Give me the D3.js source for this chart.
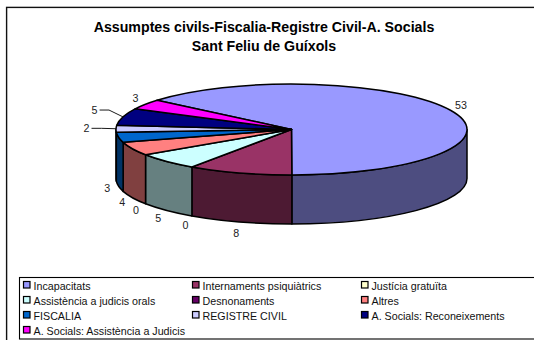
<!DOCTYPE html>
<html><head><meta charset="utf-8">
<script src="https://cdnjs.cloudflare.com/ajax/libs/d3/7.8.5/d3.min.js"></script>
<style>html,body{margin:0;padding:0;background:#fff}svg{display:block}text{font-family:"Liberation Sans",Arial,sans-serif}</style>
</head><body><div id="c"></div>
<script>
const titleLines = ["Assumptes civils-Fiscalia-Registre Civil-A. Socials", "Sant Feliu de Guíxols"];
const categories = ["Incapacitats","Internaments psiquiàtrics","Justícia gratuïta","Assistència a judicis orals","Desnonaments","Altres","FISCALIA","REGISTRE CIVIL","A. Socials: Reconeixements","A. Socials: Assistència a Judicis"];
const values = [53,8,0,5,0,4,3,2,5,3];
const colors = ["#9999FF","#993366","#FFFFCC","#CCFFFF","#660066","#FF8080","#0066CC","#CCCCFF","#000080","#FF00FF"];
const leaderCategories = ["REGISTRE CIVIL","A. Socials: Reconeixements"];

const W=534,H=340,cx=291.5,cy=129.5,rx=175.5,ry=45.5,depth=49;
const svg=d3.select("#c").append("svg").attr("width",W).attr("height",H);
svg.append("rect").attr("x",6.6).attr("y",7.4).attr("width",W+10).attr("height",H+10).attr("fill","#fff").attr("stroke","#111").attr("stroke-width",1.4);

const toRad=d3.scaleLinear().domain([0,360]).range([0,2*Math.PI]);
const pie=d3.pie().value(d=>d.v).sort(null).startAngle(toRad(310)).endAngle(toRad(670));
const arcs=pie(categories.map((c,i)=>({c,v:values[i],col:colors[i]})));
const px=(a,dy=0,k=1)=>[cx+rx*k*Math.sin(a),cy-ry*k*Math.cos(a)+dy];
const darker=c=>{const r=d3.rgb(c);return d3.rgb(r.r/2,r.g/2,r.b/2).formatHex();};
const arcPath=(a0,a1,dy)=>{const p=px(a1,dy);return `A${rx},${ry} 0 ${a1-a0>Math.PI?1:0} 1 ${p[0]},${p[1]}`;};

const sideG=svg.append("g"), topG=svg.append("g");
const lo=Math.PI/2, hi=3*Math.PI/2;
arcs.forEach(d=>{
  if(d.value===0) return;
  for(const off of [0,2*Math.PI]){
    const a0=Math.max(d.startAngle-off,lo), a1=Math.min(d.endAngle-off,hi);
    if(a1<=a0) continue;
    const s=px(a0), e=px(a1);
    const b=px(a1,depth), f=px(a0,depth);
    sideG.append("path")
      .attr("d",`M${s}${arcPath(a0,a1,0)}L${b}`+`A${rx},${ry} 0 0 0 ${f}Z`)
      .attr("fill",darker(d.data.col)).attr("stroke","#000").attr("stroke-width",1.5).attr("stroke-linejoin","round");
  }
});
arcs.forEach(d=>{
  if(d.value===0) return;
  const s=px(d.startAngle);
  topG.append("path")
    .attr("d",`M${cx},${cy}L${s}${arcPath(d.startAngle,d.endAngle,0)}Z`)
    .attr("fill",d.data.col).attr("stroke","#000").attr("stroke-width",1.5).attr("stroke-linejoin","round");
});

const lab=svg.append("g").attr("font-size",10.7).attr("fill","#222").attr("text-anchor","middle");
arcs.forEach(d=>{
  const m=(d.startAngle+d.endAngle)/2, sn=Math.sin(m), cs=Math.cos(m);
  const front=cs<-0.1;
  const isLeader=leaderCategories.includes(d.data.c);
  const Rx=isLeader?205:187, Ry=isLeader?70:57;
  const x=cx+Rx*sn, y=cy-Ry*cs+(front?depth:0);
  lab.append("text").attr("x",x).attr("y",y+3.8).text(d.value);
  if(isLeader){
    const e=px(m);
    const ex=cx+190*sn, ey=cy-70*cs;
    svg.append("path").attr("d",d3.line()([[x+5,y],[ex,ey],e]))
      .attr("fill","none").attr("stroke","#000").attr("stroke-width",0.9);
  }
});

svg.append("g").attr("text-anchor","middle").attr("font-weight","bold").attr("font-size",14.2)
  .selectAll("text").data(titleLines).join("text")
  .attr("x",264).attr("y",(d,i)=>32+i*19).text(d=>d);

svg.append("rect").attr("x",19.5).attr("y",277.5).attr("width",530).attr("height",61.5).attr("fill","#fff").attr("stroke","#000").attr("stroke-width",1.1);
const colX=[23.5,192.5,361.5];
const lg=svg.append("g").selectAll("g").data(categories).join("g")
  .attr("transform",(d,i)=>`translate(${colX[i%3]},${281.5+Math.floor(i/3)*15})`);
lg.append("rect").attr("width",6.5).attr("height",6.5).attr("fill",(d,i)=>colors[i]).attr("stroke","#000").attr("stroke-width",1.2);
lg.append("text").attr("x",10).attr("y",8).attr("font-size",10.7).attr("fill","#111").text(d=>d);
</script></body></html>
